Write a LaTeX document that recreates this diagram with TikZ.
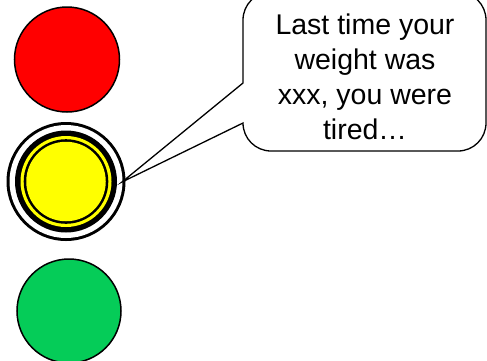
\documentclass[tikz,border=0pt]{standalone}
\usepackage{fontspec}
\setmainfont{Liberation Sans}
\definecolor{lampred}{RGB}{255,0,0}
\definecolor{lampyellow}{RGB}{255,255,0}
\definecolor{lampgreen}{RGB}{5,204,88}
\begin{document}
\begin{tikzpicture}[x=1pt,y=-1pt,
  lamp/.style={circle,draw=black,line width=1.5pt,inner sep=0pt},
  callout/.style={draw=black,line width=1.3pt,fill=white,line join=miter},
  bubbletext/.style={align=center,inner sep=0pt,font=\fontsize{28.5}{35}\selectfont}]
\useasboundingbox (0,0) rectangle (487,360);
% red and green lamps
\node[lamp,fill=lampred,minimum size=105pt] (red) at (67,59.5) {};
\node[lamp,fill=lampgreen,minimum size=104pt] (green) at (69,311) {};
% yellow lamp with rings
\coordinate (yc) at (66,181.5);
\fill[black] (yc) circle[radius=59.5];
\fill[white] (yc) circle[radius=56.5];
\fill[black] (yc) circle[radius=51];
\fill[lampyellow] (yc) circle[radius=45.5];
\fill[black] (yc) circle[radius=42.3];
\node[circle,fill=lampyellow,inner sep=0pt,minimum size=79.5pt] (yellow) at (yc) {};
% callout
\coordinate (tip) at (122,182);
\draw[callout] (243,83) -- (tip) -- (243,123)
  arc[start angle=180,end angle=90,radius=28] -- (458,151)
  arc[start angle=90,end angle=0,radius=28] -- (486,20)
  arc[start angle=0,end angle=-90,radius=28] -- (271,-8)
  arc[start angle=-90,end angle=-180,radius=28] -- cycle;
\node[bubbletext] (msg) at (365,77) {Last time your\\weight was\\xxx, you were\\tired…};
\end{tikzpicture}
\end{document}
